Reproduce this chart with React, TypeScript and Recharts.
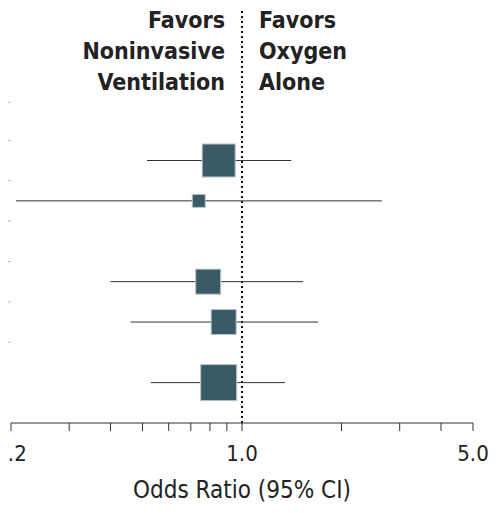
import React from "react";
import { ComposedChart, XAxis, YAxis, Scatter, ReferenceLine } from "recharts";

const rowPos = [0.5, 1.5, 3.5, 4.5, 6.0];
const estimates = [0.85, 0.74, 0.79, 0.88, 0.85];
const lower = [0.516, 0.207, 0.40, 0.46, 0.53];
const upper = [1.41, 2.65, 1.53, 1.70, 1.35];
const weights = [33, 13, 25, 25, 36];
const xTicks = [0.2, 0.3, 0.4, 0.5, 0.6, 0.7, 0.8, 0.9, 1.0, 2, 3, 4, 5];
const xLabels = [0.2, 1.0, 5.0];
const leftTicks = [-0.94, 0, 1, 2, 3, 4, 5];
const leftLabels = ["Favors", "Noninvasive", "Ventilation"];
const rightLabels = ["Favors", "Oxygen", "Alone"];

const data = rowPos.map((y, i) => ({ y, x: estimates[i], w: weights[i] }));

const FONT = "'DejaVu Sans Condensed', 'Liberation Sans Narrow', 'Open Sans', sans-serif";

const Box = (p: any) => {
  const s = p.payload.w;
  return <rect x={p.cx - s / 2} y={p.cy - s / 2} width={s} height={s} fill="#3a5a66" stroke="#b8c6cc" strokeWidth={1} />;
};

const XTick = (p: any) => {
  const v = p.payload.value;
  const show = xLabels.includes(v);
  return show ? (
    <text x={p.x} y={p.y + 28} textAnchor="middle" fontSize={22} fill="#222" fontFamily={FONT}>{v.toFixed(1)}</text>
  ) : <g />;
};

export default function App() {
  return (
    <div style={{ margin: -8, position: "relative", width: 500, height: 513, background: "#fff" }}>
      <div style={{ position: "absolute", left: 0, top: 0, width: 492, height: 510, borderRight: "2px solid #ccc", borderBottom: "2px solid #ccc" }} />
      <ComposedChart width={500} height={513} data={data} margin={{ top: 5, right: 27, bottom: 60, left: 0 }}>
        <XAxis dataKey="x" type="number" scale="log" domain={[0.2, 5]} ticks={xTicks} allowDataOverflow
          tick={<XTick />} tickSize={8} stroke="#333" interval={0} height={30} />
        <YAxis dataKey="y" type="number" domain={[-3.35, 7]} reversed width={11} ticks={leftTicks} interval={0}
          tickFormatter={() => ""} axisLine={false} tickLine={{ stroke: "#bbb" }} tickSize={4} allowDataOverflow />
        <ReferenceLine x={1} stroke="#111" strokeWidth={2} strokeDasharray="2 3" />
        {rowPos.map((y, i) => (
          <ReferenceLine key={i} segment={[{ x: lower[i], y }, { x: upper[i], y }]} stroke="#333" strokeWidth={1} ifOverflow="visible" />
        ))}
        <Scatter dataKey="y" shape={<Box />} isAnimationActive={false} />
      </ComposedChart>
      <div style={{ position: "absolute", right: 500 - 225, top: 5, textAlign: "right", fontFamily: FONT, fontWeight: 600, fontSize: 23, lineHeight: "31px", color: "#222" }}>
        {leftLabels.map((t) => <div key={t}>{t}</div>)}
      </div>
      <div style={{ position: "absolute", left: 259, top: 5, textAlign: "left", fontFamily: FONT, fontWeight: 600, fontSize: 23, lineHeight: "31px", color: "#222" }}>
        {rightLabels.map((t) => <div key={t}>{t}</div>)}
      </div>
      <div style={{ position: "absolute", left: 242, transform: "translateX(-50%)", top: 476, fontFamily: FONT, fontSize: 24, color: "#222", whiteSpace: "nowrap" }}>
        Odds Ratio (95% CI)
      </div>
    </div>
  );
}
